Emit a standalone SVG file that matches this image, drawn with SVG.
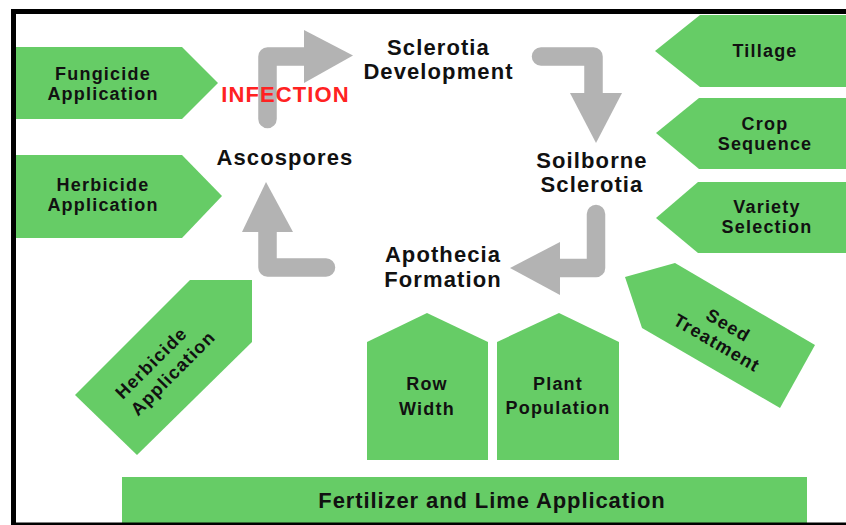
<svg xmlns="http://www.w3.org/2000/svg" width="846" height="525" viewBox="0 0 846 525">
<defs>
<style>
.box{fill:#66cc66}
.t{font-family:"Liberation Sans",Arial,sans-serif;font-weight:bold;fill:#111;text-anchor:middle}
.s{font-size:18px;letter-spacing:1.2px}
.m{font-size:22px;letter-spacing:1.1px}
.bar{fill:none;stroke:#b3b3b3;stroke-width:18.5;stroke-linejoin:round;stroke-linecap:round}
.head{fill:#b3b3b3}
</style>
</defs>
<rect x="0" y="0" width="846" height="525" fill="#fff"/>
<g id="frame" fill="#000">
<rect x="11" y="9" width="835" height="5"/>
<rect x="11" y="9" width="5" height="516"/>
</g>

<g id="connectors">
<path class="bar" d="M267.5,119 V56.5 H310"/>
<polygon class="head" points="304,30 353,55.5 304,83"/>
<path class="bar" d="M541,56.5 H593.5 V100"/>
<polygon class="head" points="570,93 622,93 596,143"/>
<path class="bar" d="M596,214 V268 H555"/>
<polygon class="head" points="560,242 560,295 510,268"/>
<path class="bar" d="M326,267.5 H267.5 V225"/>
<polygon class="head" points="242,232 293,232 266,182"/>
</g>

<g id="infection"><text class="t m" x="285.5" y="102" fill="#ff2222" style="fill:#ff2222">INFECTION</text></g>
<g id="sclerotia-development"><text class="t m" x="438.5" y="54.5">Sclerotia</text><text class="t m" x="438.5" y="79">Development</text></g>
<g id="soilborne-sclerotia"><text class="t m" x="592" y="168">Soilborne</text><text class="t m" x="592" y="192">Sclerotia</text></g>
<g id="apothecia-formation"><text class="t m" x="443" y="262">Apothecia</text><text class="t m" x="443" y="287">Formation</text></g>
<g id="ascospores"><text class="t m" x="285" y="165">Ascospores</text></g>

<g id="fungicide-application">
<polygon class="box" points="16,47 182,47 218,83 182,119 16,119"/>
<text class="t s" x="103" y="80">Fungicide</text><text class="t s" x="103" y="100">Application</text>
</g>
<g id="herbicide-application-1">
<polygon class="box" points="16,155 182,155 222,196 182,238 16,238"/>
<text class="t s" x="103" y="191">Herbicide</text><text class="t s" x="103" y="211">Application</text>
</g>
<g id="herbicide-application-2">
<polygon class="box" points="190,280 252,280 252,342 137,455 75,395"/>
<g transform="translate(162,368) rotate(-45)">
<text class="t s" x="-4" y="-5">Herbicide</text><text class="t s" x="4" y="17.5">Application</text>
</g>
</g>
<g id="tillage">
<polygon class="box" points="700,15 846,15 846,87 700,87 655,51"/>
<text class="t s" x="765" y="57">Tillage</text>
</g>
<g id="crop-sequence">
<polygon class="box" points="699,98 846,98 846,169 699,169 656,133"/>
<text class="t s" x="765" y="130">Crop</text><text class="t s" x="765" y="150">Sequence</text>
</g>
<g id="variety-selection">
<polygon class="box" points="698,182 846,182 846,253 698,253 656,218"/>
<text class="t s" x="767" y="213">Variety</text><text class="t s" x="767" y="233">Selection</text>
</g>
<g id="seed-treatment">
<polygon class="box" points="625,277 675,263 815,345 780,408 642,328"/>
<g transform="translate(722,334) rotate(30.4)">
<text class="t s" x="1" y="-4.5">Seed</text><text class="t s" x="0" y="16.5">Treatment</text>
</g>
</g>
<g id="row-width">
<polygon class="box" points="367,342 427,313 488,342 488,460 367,460"/>
<text class="t s" x="427" y="390">Row</text><text class="t s" x="427" y="415">Width</text>
</g>
<g id="plant-population">
<polygon class="box" points="497,342 559,313 619,342 619,460 497,460"/>
<text class="t s" x="558" y="390">Plant</text><text class="t s" x="558" y="414">Population</text>
</g>
<g id="fertilizer-lime">
<rect class="box" x="122" y="477" width="685" height="48"/>
<text class="t m" x="492" y="508" style="letter-spacing:0.9px">Fertilizer and Lime Application</text>
</g>
<rect x="11" y="522.5" width="835" height="2.5" fill="#000"/>
</svg>
